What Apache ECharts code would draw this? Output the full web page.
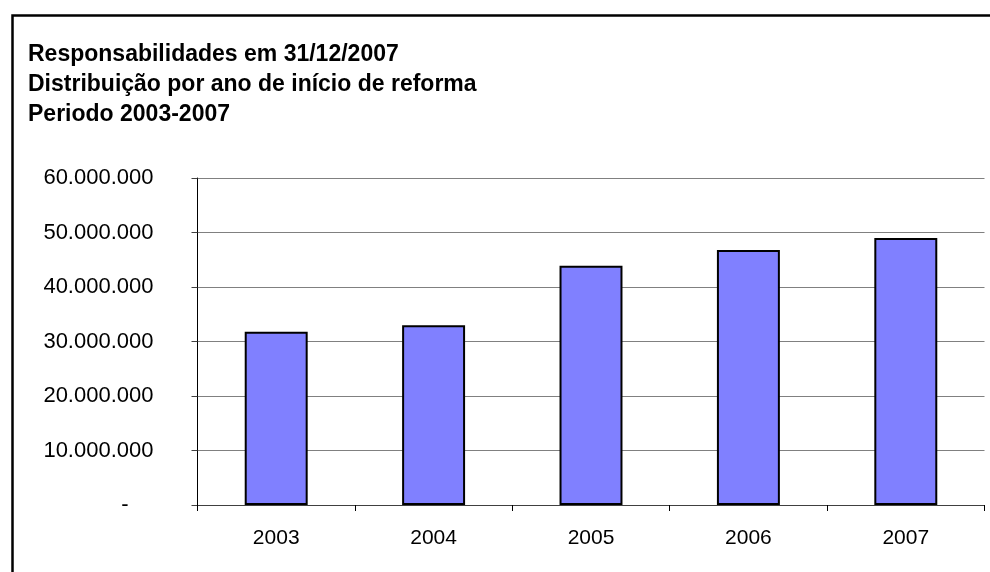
<!DOCTYPE html>
<html>
<head>
<meta charset="utf-8">
<script src="https://cdn.jsdelivr.net/npm/echarts@6/dist/echarts.min.js"></script>
<style>
html,body{margin:0;padding:0;background:#fff;}
#c{width:990px;height:572px;}
</style>
</head>
<body>
<div id="c"></div>
<script>
var titleLines = ['Responsabilidades em 31/12/2007', 'Distribuição por ano de início de reforma', 'Periodo 2003-2007'];
var categories = ['2003', '2004', '2005', '2006', '2007'];
var values = [31800000, 33000000, 43900000, 46800000, 49000000];
var yMin = 0, yMax = 60000000, yStep = 10000000;

function fmt(v) {
  if (v === 0) return '{z|-}';
  return String(Math.round(v)).replace(/\B(?=(\d{3})+(?!\d))/g, '.');
}

var chart = echarts.init(document.getElementById('c'), null, {renderer: 'canvas'});
chart.setOption({
  backgroundColor: '#ffffff',
  animation: false,
  title: {
    text: titleLines.join('\n'),
    left: 28,
    top: 40,
    padding: 0,
    textStyle: {
      fontFamily: 'Liberation Sans, Arial, sans-serif',
      fontWeight: 'bold',
      fontSize: 23,
      lineHeight: 30,
      color: '#000'
    }
  },
  graphic: [{
    type: 'rect',
    left: 10, top: 13,
    shape: {width: 1000, height: 600},
    style: {fill: 'none', stroke: '#000', lineWidth: 2.5},
    silent: true, z: 100
  }],
  grid: {left: 197.5, right: 5.5, top: 178, bottom: 67, containLabel: false},
  xAxis: {
    type: 'category',
    data: categories,
    axisLine: {lineStyle: {color: '#404040', width: 1}},
    axisTick: {show: true, alignWithLabel: false, length: 6, lineStyle: {color: '#000'}},
    axisLabel: {
      fontFamily: 'Liberation Sans, Arial, sans-serif',
      fontSize: 21, color: '#000', margin: 23
    },
    splitLine: {show: false}
  },
  yAxis: {
    type: 'value',
    min: yMin, max: yMax, interval: yStep,
    axisLine: {show: true, lineStyle: {color: '#000', width: 1}},
    axisTick: {show: true, length: 6, lineStyle: {color: '#404040'}},
    axisLabel: {
      fontFamily: 'Liberation Sans, Arial, sans-serif',
      fontSize: 22, color: '#000', margin: 44,
      formatter: fmt,
      rich: {z: {fontFamily: 'Liberation Sans, Arial, sans-serif', fontSize: 22, color: '#000', padding: [0, 25, 0, 0]}}
    },
    splitLine: {show: true, lineStyle: {color: '#808080', width: 1}}
  },
  series: [{
    type: 'bar',
    data: values,
    barWidth: '40%',
    itemStyle: {color: '#8080FF', borderColor: '#000', borderWidth: 2}
  }]
});
</script>
</body>
</html>
